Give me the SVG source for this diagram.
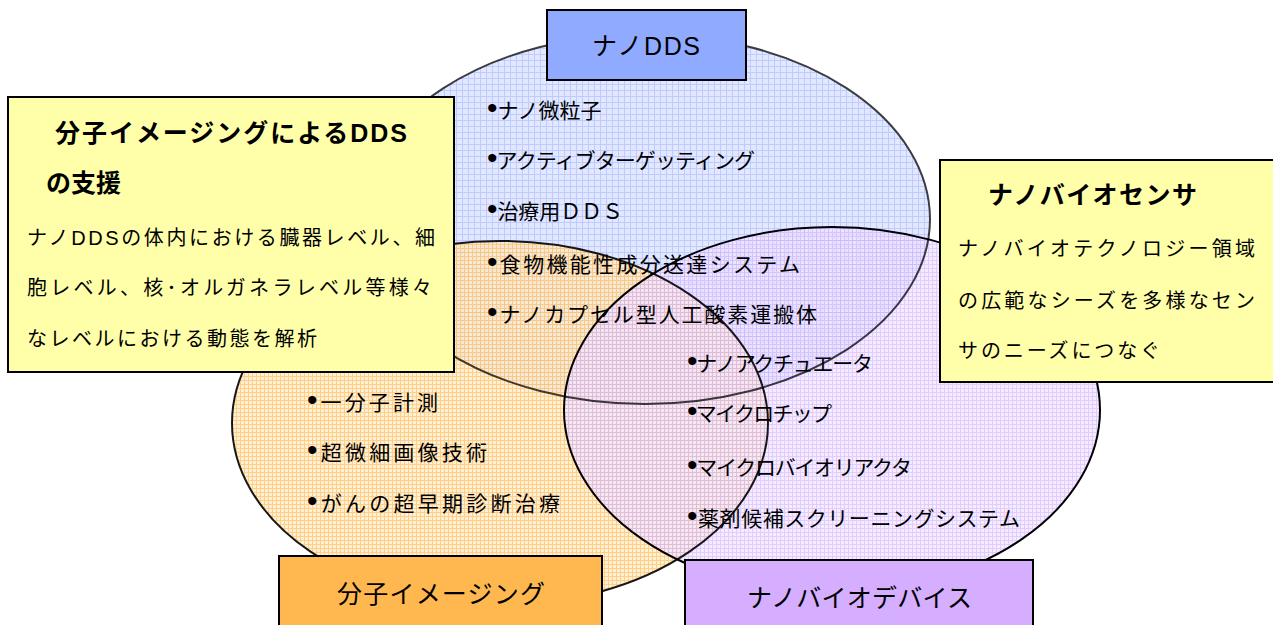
<svg xmlns="http://www.w3.org/2000/svg" width="1273" height="625" viewBox="0 0 1273 625">
<defs>
<pattern id="pBlue" width="6" height="6" patternUnits="userSpaceOnUse">
<rect width="6" height="6" fill="#E2E8FF"/>
<path d="M0 0.5H6M0.5 0V6" stroke="#BFCBFF" stroke-width="1"/>
</pattern>
<pattern id="pOrange" width="4" height="4" patternUnits="userSpaceOnUse">
<rect width="4" height="4" fill="#FFEBCB"/>
<path d="M0 0.5H4M0.5 0V4" stroke="#FFC46E" stroke-width="1"/>
</pattern>
<pattern id="pPurple" width="4" height="4" patternUnits="userSpaceOnUse">
<rect width="4" height="4" fill="#F1E4FF"/>
<path d="M0 0.5H4M0.5 0V4" stroke="#D2B4FF" stroke-width="1"/>
</pattern>
</defs>
<style>
.el{stroke:#000;stroke-width:2}
.box{stroke:#000;stroke-width:2}
.t{font-family:"Liberation Sans","Noto Sans CJK JP",sans-serif;fill:#000}
.b{font-size:21px}
.dot{font-size:30px}
.lbl{font-size:25px}
.ttl{font-size:25px;font-weight:bold}
.body{font-size:20px}
</style>
<rect width="1273" height="625" fill="#FFFFFF"/>

<g id="venn">
<ellipse id="ellipse-nanodds" cx="645" cy="219" rx="285" ry="185" fill="url(#pBlue)"/>
<ellipse id="ellipse-imaging" cx="500" cy="423" rx="268" ry="182" fill="url(#pOrange)" opacity="0.82"/>
<ellipse id="ellipse-device" cx="832" cy="410" rx="268" ry="183" fill="url(#pPurple)" opacity="0.68"/>
<ellipse cx="645" cy="219" rx="285" ry="185" fill="none" class="el" stroke-opacity="0.75"/>
<ellipse cx="500" cy="423" rx="268" ry="182" fill="none" class="el" stroke-opacity="0.9"/>
<ellipse cx="832" cy="410" rx="268" ry="183" fill="none" class="el"/>
</g>

<g id="node-nanodds-items">
<text class="t b" x="487" y="118"><tspan class="dot">•</tspan>ナノ微粒子</text>
<text class="t b" x="487" y="168" textLength="268"><tspan class="dot">•</tspan>アクティブターゲッティング</text>
<text class="t b" x="487" y="219" textLength="136"><tspan class="dot">•</tspan>治療用ＤＤＳ</text>
<text class="t b" x="487" y="272" textLength="313"><tspan class="dot">•</tspan>食物機能性成分送達システム</text>
<text class="t b" x="487" y="322" textLength="330"><tspan class="dot">•</tspan>ナノカプセル型人工酸素運搬体</text>
</g>

<g id="node-imaging-items">
<text class="t b" x="307" y="410" textLength="131"><tspan class="dot">•</tspan>一分子計測</text>
<text class="t b" x="307" y="460" textLength="180"><tspan class="dot">•</tspan>超微細画像技術</text>
<text class="t b" x="307" y="511" textLength="253"><tspan class="dot">•</tspan>がんの超早期診断治療</text>
</g>

<g id="node-device-items">
<text class="t b" x="687" y="371" textLength="186"><tspan class="dot">•</tspan>ナノアクチュエータ</text>
<text class="t b" x="687" y="421" textLength="145"><tspan class="dot">•</tspan>マイクロチップ</text>
<text class="t b" x="687" y="475" textLength="225"><tspan class="dot">•</tspan>マイクロバイオリアクタ</text>
<text class="t b" x="687" y="526" textLength="333"><tspan class="dot">•</tspan>薬剤候補スクリーニングシステム</text>
</g>

<g id="node-nanodds">
<rect class="box" x="547" y="10" width="199" height="70" fill="#8FAAFF"/>
<text class="t lbl" x="592" y="55" textLength="108">ナノDDS</text>
</g>

<g id="node-imaging">
<rect class="box" x="279" y="556" width="323" height="80" fill="#FFB84F"/>
<text class="t lbl" x="337" y="603" textLength="208">分子イメージング</text>
</g>

<g id="node-device">
<rect class="box" x="685" y="560" width="348" height="80" fill="#D5AEFF"/>
<text class="t lbl" x="747" y="607" textLength="225">ナノバイオデバイス</text>
</g>

<g id="node-dds-support">
<rect class="box" x="8" y="97" width="446" height="275" fill="#FFFFAA"/>
<text class="t ttl" x="55" y="142" textLength="352">分子イメージングによるDDS</text>
<text class="t ttl" x="46" y="192">の支援</text>
<text class="t body" x="27" y="245" textLength="408">ナノDDSの体内における臓器レベル、細</text>
<text class="t body" x="27" y="295" textLength="405">胞レベル、核･オルガネラレベル等様々</text>
<text class="t body" x="27" y="346" textLength="290">なレベルにおける動態を解析</text>
</g>

<g id="node-biosensor">
<rect class="box" x="940" y="160" width="340" height="222" fill="#FFFFAA"/>
<text class="t ttl" x="988" y="204" textLength="209">ナノバイオセンサ</text>
<text class="t body" x="958" y="256" textLength="297">ナノバイオテクノロジー領域</text>
<text class="t body" x="958" y="308" textLength="297">の広範なシーズを多様なセン</text>
<text class="t body" x="958" y="358" textLength="202">サのニーズにつなぐ</text>
</g>

<g id="connectors"></g>
</svg>
